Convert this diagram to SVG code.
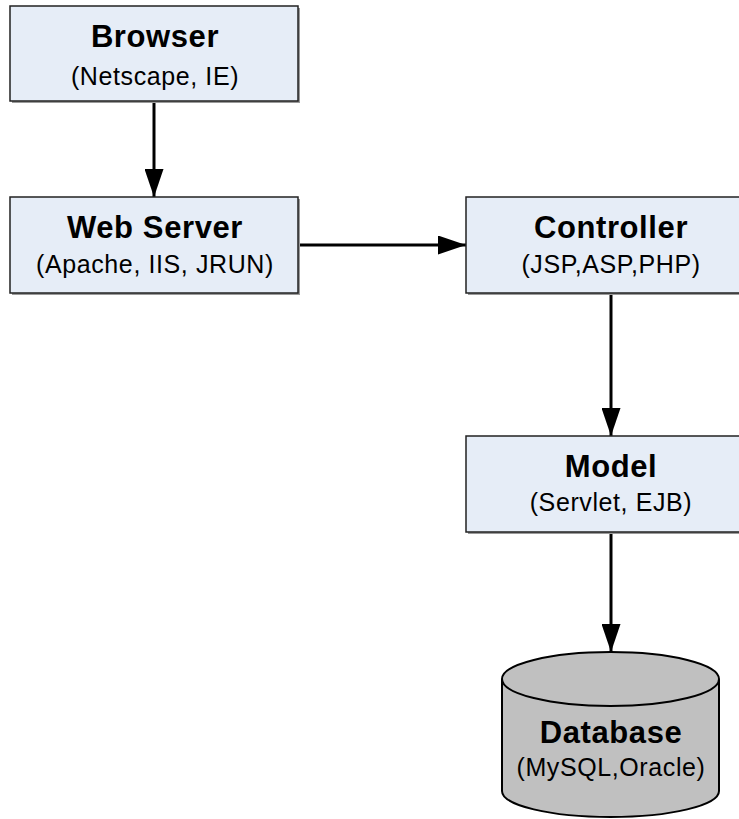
<svg xmlns="http://www.w3.org/2000/svg" width="739" height="819" viewBox="0 0 739 819">
<style>
.box{fill:#e6edf7;stroke:#222;stroke-width:1.5}
.shadow{fill:#9a9a9a}
.t{font-family:"Liberation Sans",Arial,sans-serif;font-weight:bold;font-size:31px;letter-spacing:0.6px;fill:#000;text-anchor:middle}
.s{font-family:"Liberation Sans",Arial,sans-serif;font-size:25px;letter-spacing:0.6px;fill:#000;text-anchor:middle}
.c{stroke:#000;stroke-width:3;fill:none}
.db{fill:#c0c0c0;stroke:#000;stroke-width:2}
</style>
<defs>
<marker id="ah" markerUnits="userSpaceOnUse" viewBox="0 0 28 19" refX="28" refY="9.5" markerWidth="28" markerHeight="19" orient="auto">
<path d="M0,0 L28,9.5 L0,19 Z" fill="#000"/>
</marker>
</defs>
<rect width="739" height="819" fill="#fff"/>
<g id="connectors">
<line class="c" x1="154" y1="101" x2="154" y2="197" marker-end="url(#ah)"/>
<line class="c" x1="298" y1="245" x2="466" y2="245" marker-end="url(#ah)"/>
<line class="c" x1="611" y1="293" x2="611" y2="436" marker-end="url(#ah)"/>
<line class="c" x1="611" y1="532" x2="611" y2="652" marker-end="url(#ah)"/>
</g>
<g id="browser">
<rect class="shadow" x="12" y="8" width="288" height="95"/>
<rect class="box" x="10" y="6" width="288" height="95"/>
<text class="t" x="155" y="47">Browser</text>
<text class="s" x="155" y="85">(Netscape, IE)</text>
</g>
<g id="webserver">
<rect class="shadow" x="12" y="199" width="288" height="96"/>
<rect class="box" x="10" y="197" width="288" height="96"/>
<text class="t" x="155" y="238">Web Server</text>
<text class="s" x="155" y="273">(Apache, IIS, JRUN)</text>
</g>
<g id="controller">
<rect class="shadow" x="468" y="199" width="290" height="96"/>
<rect class="box" x="466" y="197" width="290" height="96"/>
<text class="t" x="611" y="238">Controller</text>
<text class="s" x="611" y="273">(JSP,ASP,PHP)</text>
</g>
<g id="model">
<rect class="shadow" x="468" y="438" width="290" height="96"/>
<rect class="box" x="466" y="436" width="290" height="96"/>
<text class="t" x="611" y="477">Model</text>
<text class="s" x="611" y="511">(Servlet, EJB)</text>
</g>
<g id="database">
<path class="db" d="M502,679 L502,791 A108.5,26 0 0 0 719,791 L719,679"/>
<ellipse class="db" cx="610.5" cy="679" rx="108.5" ry="27"/>
<text class="t" x="611" y="743">Database</text>
<text class="s" x="611" y="776">(MySQL,Oracle)</text>
</g>
</svg>
